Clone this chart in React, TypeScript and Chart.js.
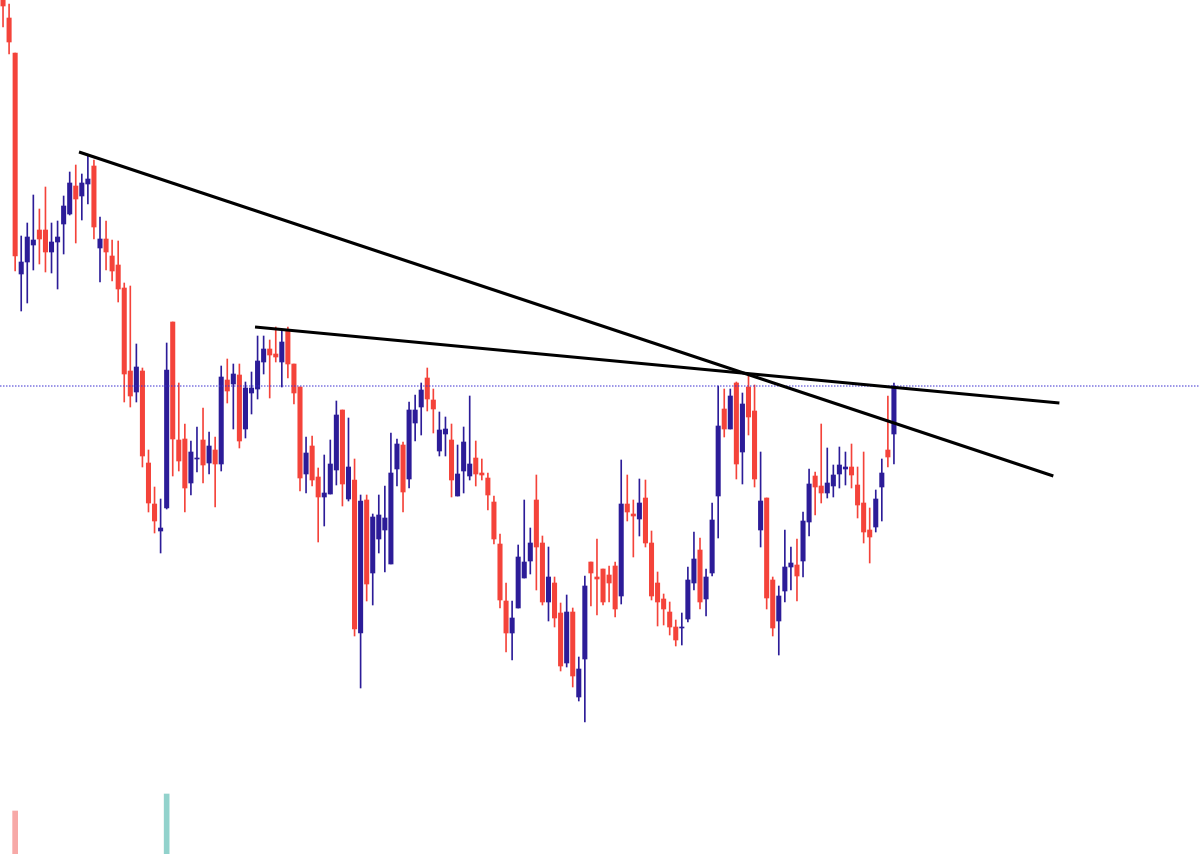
import React, { useEffect, useRef } from "react";
import { Chart, registerables } from "chart.js";

Chart.register(...registerables);

// Candle OHLC values (arbitrary price units)
const openPrices = [
  902, 882, 847, 626, 638, 655, 670, 670, 648, 658,
  676, 686, 714, 704, 716, 734, 652, 661, 644, 635,
  612, 529, 508, 529, 437, 396, 369, 392, 578, 460,
  461, 417, 441, 460, 437, 450, 436, 520, 516, 525,
  471, 507, 511, 538, 551, 546, 538, 570, 536, 513,
  426, 454, 423, 403, 406, 430, 490, 401, 420, 267,
  400, 327, 361, 370, 336, 431, 455, 421, 477, 493,
  522, 500, 449, 466, 460, 404, 429, 424, 442, 427,
  422, 398, 356, 299, 267, 292, 322, 339, 400, 357,
  298, 317, 287, 237, 288, 203, 241, 338, 323, 331,
  325, 334, 304, 396, 386, 381, 402, 357, 317, 301,
  288, 273, 272, 281, 317, 350, 301, 327, 404, 491,
  471, 517, 448, 513, 489, 370, 402, 320, 279, 309,
  333, 335, 339, 378, 424, 414, 407, 414, 426, 431,
  433, 415, 397, 370, 373, 413, 450, 466,
];
const highPrices = [
  905, 896, 847, 664, 677, 705, 691, 713, 677, 679,
  704, 728, 735, 726, 745, 740, 683, 679, 660, 659,
  617, 614, 556, 532, 450, 413, 401, 557, 578, 517,
  476, 459, 473, 492, 468, 463, 534, 541, 536, 536,
  518, 528, 564, 564, 560, 573, 570, 573, 536, 513,
  463, 464, 432, 445, 460, 499, 490, 482, 441, 405,
  405, 386, 405, 414, 467, 461, 458, 498, 505, 517,
  532, 511, 488, 483, 476, 455, 473, 504, 459, 441,
  427, 404, 366, 317, 299, 355, 400, 372, 425, 364,
  353, 323, 297, 305, 292, 243, 324, 338, 361, 331,
  334, 338, 440, 425, 400, 421, 420, 369, 328, 306,
  298, 280, 287, 333, 368, 362, 331, 397, 514, 511,
  511, 518, 507, 524, 515, 448, 402, 323, 314, 370,
  353, 361, 388, 431, 428, 476, 452, 435, 453, 448,
  456, 433, 448, 392, 410, 441, 504, 517,
];
const lowPrices = [
  873, 846, 629, 589, 597, 630, 636, 628, 627, 611,
  646, 685, 657, 680, 696, 661, 618, 630, 619, 598,
  498, 493, 498, 433, 388, 367, 347, 391, 424, 429,
  388, 405, 428, 417, 426, 393, 429, 497, 471, 452,
  462, 486, 501, 526, 502, 538, 513, 522, 496, 409,
  407, 414, 358, 374, 406, 415, 394, 399, 264, 212,
  299, 295, 347, 328, 336, 414, 388, 412, 459, 465,
  489, 467, 444, 444, 403, 404, 407, 420, 414, 420,
  390, 356, 292, 248, 240, 292, 322, 326, 310, 295,
  279, 273, 229, 233, 213, 199, 178, 294, 285, 295,
  298, 283, 296, 379, 343, 364, 353, 300, 274, 275,
  265, 254, 255, 278, 310, 291, 284, 324, 362, 463,
  471, 421, 416, 465, 413, 353, 291, 264, 245, 298,
  310, 299, 323, 364, 385, 397, 402, 403, 412, 415,
  412, 382, 357, 337, 368, 379, 433, 436,
];
const closePrices = [
  894, 858, 644, 638, 663, 660, 661, 648, 658, 663,
  694, 717, 701, 717, 721, 673, 661, 648, 629, 611,
  526, 504, 533, 444, 397, 379, 372, 530, 461, 439,
  412, 448, 442, 435, 454, 436, 523, 509, 526, 459,
  512, 512, 539, 551, 545, 543, 558, 536, 507, 422,
  447, 420, 403, 407, 436, 485, 416, 433, 271, 399,
  316, 383, 385, 382, 427, 456, 408, 490, 490, 510,
  501, 491, 470, 471, 420, 426, 458, 436, 426, 425,
  405, 361, 300, 267, 282, 343, 338, 357, 353, 298,
  323, 282, 234, 288, 224, 231, 314, 327, 321, 298,
  317, 291, 396, 388, 384, 397, 357, 304, 298, 291,
  273, 260, 273, 320, 341, 298, 323, 380, 474, 471,
  504, 436, 496, 483, 421, 399, 302, 272, 304, 333,
  337, 324, 379, 416, 413, 407, 417, 425, 435, 433,
  425, 395, 368, 363, 401, 427, 443, 514,
];
const volumes = [
  0, 0, 4.3, 0, 0, 0, 0, 0, 0, 0,
  0, 0, 0, 0, 0, 0, 0, 0, 0, 0,
  0, 0, 0, 0, 0, 0, 0, 6.0, 0, 0,
];

// Total slots on the time axis (candles + empty space on the right)
const slotCount = 198;
const categories = Array.from({ length: slotCount }, (_, i) => String(i));

// Last price line and two trendlines (index, price)
const lastPrice = 514;
const trendLineA = [
  { x: 12.54, y: 748 },
  { x: 173.3, y: 424 },
];
const trendLineB = [
  { x: 41.58, y: 573 },
  { x: 174.3, y: 497 },
];

const UP = "#2c1c98";
const DOWN = "#f4433a";
const UP_VOL = "rgba(38,166,154,0.5)";
const DOWN_VOL = "rgba(239,83,80,0.5)";

export default function App() {
  const ref = useRef<HTMLCanvasElement | null>(null);

  useEffect(() => {
    document.body.style.margin = "0";
    document.body.style.overflow = "hidden";
    const canvas = ref.current;
    if (!canvas) return;

    const isUp = openPrices.map((o, i) => closePrices[i] >= o);
    const colors = isUp.map((u) => (u ? UP : DOWN));
    const volColors = isUp.map((u) => (u ? UP_VOL : DOWN_VOL));

    const bodies = openPrices.map((o, i) => [o, closePrices[i]]);
    const wicks = lowPrices.map((l, i) => [l, highPrices[i]]);
    const vols = volumes.map((v) => (v > 0 ? v : null));

    const chart = new Chart(canvas, {
      type: "bar",
      data: {
        labels: categories,
        datasets: [
          {
            type: "line",
            label: "trendA",
            data: trendLineA as any,
            xAxisID: "xl",
            yAxisID: "y",
            borderColor: "#000000",
            borderWidth: 3,
            pointRadius: 0,
            order: 0,
          } as any,
          {
            type: "line",
            label: "trendB",
            data: trendLineB as any,
            xAxisID: "xl",
            yAxisID: "y",
            borderColor: "#000000",
            borderWidth: 3,
            pointRadius: 0,
            order: 0,
          } as any,
          {
            type: "line",
            label: "last",
            data: [
              { x: -0.5, y: lastPrice },
              { x: slotCount - 0.5, y: lastPrice },
            ] as any,
            xAxisID: "xl",
            yAxisID: "y",
            borderColor: "#3b2fd0",
            borderWidth: 1,
            borderDash: [1.5, 1.5],
            pointRadius: 0,
            order: 1,
          } as any,
          {
            type: "bar",
            label: "body",
            data: bodies as any,
            backgroundColor: colors,
            barThickness: 4.4,
            grouped: false,
            borderWidth: 0,
            xAxisID: "x",
            yAxisID: "y",
            order: 2,
          } as any,
          {
            type: "bar",
            label: "wick",
            data: wicks as any,
            backgroundColor: colors,
            barThickness: 1,
            grouped: false,
            borderWidth: 0,
            xAxisID: "x",
            yAxisID: "y",
            order: 3,
          } as any,
          {
            type: "bar",
            label: "volume",
            data: vols as any,
            backgroundColor: volColors,
            barThickness: 5,
            grouped: false,
            borderWidth: 0,
            xAxisID: "x",
            yAxisID: "yv",
            order: 4,
          } as any,
        ],
      },
      options: {
        responsive: false,
        animation: false,
        maintainAspectRatio: false,
        layout: { padding: 0 },
        plugins: {
          legend: { display: false },
          tooltip: { enabled: false },
          title: { display: false },
        },
        scales: {
          x: {
            type: "category",
            display: false,
            offset: true,
            grid: { display: false },
          },
          xl: {
            type: "linear",
            display: false,
            offset: false,
            min: -0.5,
            max: slotCount - 0.5,
          },
          y: {
            type: "linear",
            display: false,
            min: 46,
            max: 900,
          },
          yv: {
            type: "linear",
            display: false,
            min: 0,
            max: 85.4,
          },
        },
      },
    });

    return () => chart.destroy();
  }, []);

  return (
    <canvas
      ref={ref}
      width={1200}
      height={854}
      style={{ display: "block", width: 1200, height: 854 }}
    />
  );
}
